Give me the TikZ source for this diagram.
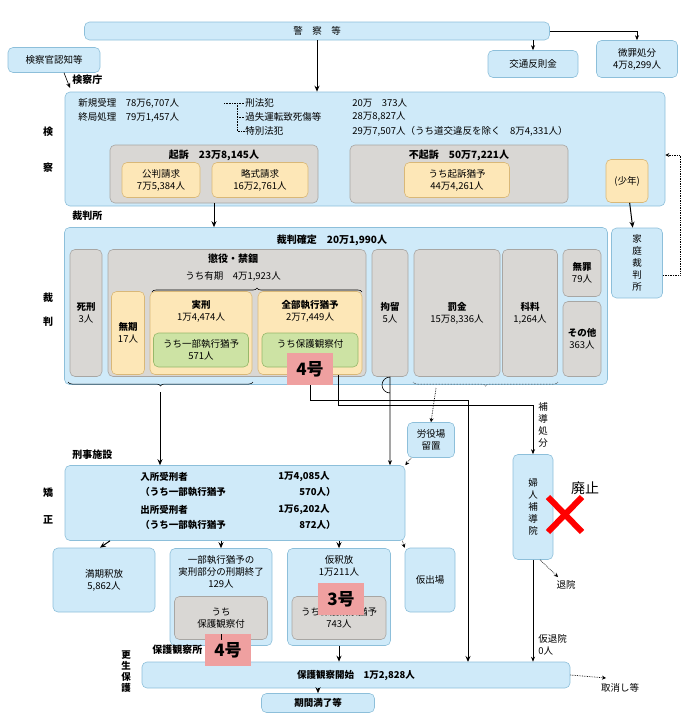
\documentclass[tikz,border=0pt]{standalone}
\usepackage{fontspec}
\setmainfont{Noto Sans CJK JP}
\usetikzlibrary{arrows.meta,decorations.pathreplacing}
\definecolor{bluef}{HTML}{CFEAF9}
\definecolor{blued}{HTML}{8DBFDA}
\definecolor{grayf}{HTML}{D9D7D4}
\definecolor{grayd}{HTML}{A8A6A3}
\definecolor{yelf}{HTML}{FDE7B7}
\definecolor{yeld}{HTML}{D9B878}
\definecolor{grnf}{HTML}{CDE3A4}
\definecolor{grnd}{HTML}{97B86A}
\definecolor{pinkf}{HTML}{EFA0A0}
\tikzset{
  every node/.append style={align=center},
  bx/.style={draw=blued,fill=bluef,rounded corners=5pt,inner sep=0pt},
  gx/.style={draw=grayd,fill=grayf,rounded corners=5pt,inner sep=0pt},
  yx/.style={draw=yeld,fill=yelf,rounded corners=5pt,inner sep=0pt},
  nx/.style={draw=grnd,fill=grnf,rounded corners=5pt,inner sep=0pt},
  go/.style={-{Stealth[length=6pt,width=5pt]},line width=1pt},
  th/.style={-{Stealth[length=5pt,width=4pt]},line width=.6pt},
  dt/.style={-{Stealth[length=4pt,width=4pt]},densely dotted,line width=.7pt},
  lb/.style={inner sep=0pt,font=\bfseries},
  bd/.style={inner sep=0pt,font=\fontsize{9.5}{11}\selectfont\bfseries},
  pk/.style={fill=pinkf,inner sep=1pt,font=\fontsize{17}{17}\selectfont\bfseries,minimum width=46pt,minimum height=32pt}
}
\begin{document}
\begin{tikzpicture}[x=1pt,y=-1pt,font=\fontsize{9.5}{12}\selectfont,line width=.6pt]
\useasboundingbox (0,0) rectangle (688,720);
% police and prosecution
\node[bx,minimum width=465pt,minimum height=18pt] (police) at (317,31) {警\quad 察\quad 等};
\node[bx,minimum width=92pt,minimum height=25pt] (ninchi) at (54,60) {検察官認知等};
\node[bx,minimum width=90pt,minimum height=27pt] (hansoku) at (533,64) {交通反則金};
\node[bx,minimum width=81pt,minimum height=37pt] (bizai) at (637,59) {微罪処分\\4万8,299人};
\node[bx,minimum width=600pt,minimum height=114pt] (kensatsu) at (365,149) {};
\node[lb,anchor=west] (kchou) at (72,80) {検察庁};
\node[lb] (ken1) at (48,132) {検};
\node[lb] (ken2) at (48,168) {察};
\node[anchor=west,inner sep=0pt] (juri) at (78,103) {新規受理\quad 78万6,707人};
\node[anchor=west,inner sep=0pt] (shuri) at (78,117) {終局処理\quad 79万1,457人};
\node[anchor=west,inner sep=0pt] (keiho) at (245,103) {刑法犯};
\node[anchor=west,inner sep=0pt] (kashitsu) at (245,117) {過失運転致死傷等};
\node[anchor=west,inner sep=0pt] (tokubetsu) at (245,131) {特別法犯};
\node[anchor=west,inner sep=0pt] (n1) at (352,103) {20万\quad 373人};
\node[anchor=west,inner sep=0pt] (n2) at (352,117) {28万8,827人};
\node[anchor=west,inner sep=0pt] (n3) at (352,131) {29万7,507人（うち道交違反を除く\quad 8万4,331人）};
\draw[densely dotted] (224,103) -- (237,103) (237,103) |- (tokubetsu.west) (237,117) -- (kashitsu.west) (237,103) -- (keiho.west);
\node[gx,minimum width=208pt,minimum height=58pt] (kiso) at (214,174) {};
\node[lb] (kisot) at (214,155) {起訴\quad 23万8,145人};
\node[yx,minimum width=78pt,minimum height=35pt] (kohan) at (161,180) {公判請求\\7万5,384人};
\node[yx,minimum width=96pt,minimum height=35pt] (ryaku) at (260,180) {略式請求\\16万2,761人};
\node[gx,minimum width=218pt,minimum height=58pt] (fukiso) at (459,174) {};
\node[lb] (fukisot) at (459,155) {不起訴\quad 50万7,221人};
\node[yx,minimum width=105pt,minimum height=35pt] (yuyo) at (457,180) {うち起訴猶予\\44万4,261人};
\node[yx,minimum width=42pt,minimum height=43pt] (shonen) at (627,181) {(少年)};
\draw[go] (police) -- (kensatsu.north -| police);
\draw[th] (ninchi.south) ++(10,0) -- (70,88);
\draw[th] (hansoku.north |- police.south) -- (hansoku.north);
\draw[th] (police.east) -| (bizai.north);
% trial
\node[lb,anchor=west] (saibansho) at (72,216) {裁判所};
\node[bx,minimum width=543pt,minimum height=157pt] (saiban) at (336,306) {};
\node[bx,minimum width=51pt,minimum height=70pt] (katei) at (637,263) {家\\庭\\裁\\判\\所};
\node[lb] (sai1) at (48,298) {裁};
\node[lb] (sai2) at (48,322) {判};
\node[lb] (kakutei) at (332,240) {裁判確定\quad 20万1,990人};
\node[gx,minimum width=32pt,minimum height=127pt] (shikei) at (86,313) {\textbf{死刑}\\3人};
\node[gx,minimum width=258pt,minimum height=127pt] (choeki) at (237,313) {};
\node[lb] (choekit) at (233,259) {懲役・禁錮};
\node (yuki) at (233,276) {うち有期\quad 4万1,923人};
\draw[decorate,decoration={brace,amplitude=4pt}] (152,292) -- (362,292);
\node[yx,minimum width=33pt,minimum height=83pt] (muki) at (128,333) {\textbf{無期}\\17人};
\node[yx,minimum width=102pt,minimum height=83pt] (jikkei) at (201,333) {};
\node (jikkeit) at (201,311) {\textbf{実刑}\\1万4,474人};
\node[nx,minimum width=95pt,minimum height=34pt] (ichibu) at (201,350) {うち一部執行猶予\\571人};
\node[yx,minimum width=104pt,minimum height=83pt] (zenbu) at (310,333) {};
\node (zenbut) at (310,311) {\textbf{全部執行猶予}\\2万7,449人};
\node[nx,minimum width=96pt,minimum height=34pt,text depth=12pt] (hogo1) at (310,350) {うち保護観察付};
\node[gx,minimum width=36pt,minimum height=127pt] (koryu) at (390,313) {\textbf{拘留}\\5人};
\node[gx,minimum width=86pt,minimum height=127pt] (bakkin) at (457,313) {\textbf{罰金}\\15万8,336人};
\node[gx,minimum width=55pt,minimum height=127pt] (karyo) at (530,313) {\textbf{科料}\\1,264人};
\node[gx,minimum width=38pt,minimum height=47pt] (muzai) at (582,273) {\textbf{無罪}\\79人};
\node[gx,minimum width=38pt,minimum height=75pt] (sonota) at (582,339) {\textbf{その他}\\363人};
\node[pk] (go4a) at (310,369) {4号};
\draw[go] (kiso.south) -- (saiban.north -| kiso.south);
\draw[go] (shonen) -- (katei);
\draw[dt] (katei.east) ++(0,12) -- (680,275) -- (680,155) -- (kensatsu.east |- 0,155);
% correction
\node[lb,anchor=west] (keiji) at (72,455) {刑事施設};
\node[lb] (kyo1) at (48,493) {矯};
\node[lb] (kyo2) at (48,520) {正};
\node[bx,minimum width=340pt,minimum height=75pt] (kyosei) at (235,503) {};
\node[bd,anchor=west] (nyusho) at (140,477) {入所受刑者};
\node[bd,anchor=west] (nyusho2) at (140,492) {（うち一部執行猶予};
\node[bd,anchor=west] (shussho) at (140,510) {出所受刑者};
\node[bd,anchor=west] (shussho2) at (140,525) {（うち一部執行猶予};
\node[bd,anchor=east] (m1) at (330,477) {1万4,085人};
\node[bd,anchor=east] (m2) at (336,492) {570人）};
\node[bd,anchor=east] (m3) at (330,510) {1万6,202人};
\node[bd,anchor=east] (m4) at (336,525) {872人）};
\node[bx,minimum width=47pt,minimum height=35pt] (roeki) at (431,440) {労役場\\留置};
\node[bx,minimum width=40pt,minimum height=105pt] (fujin) at (533,507) {婦\\人\\補\\導\\院};
\node[inner sep=0pt] (hodo) at (543,425) {補\\導\\処\\分};
\node[inner sep=0pt,font=\fontsize{14}{14}\selectfont] (haishi) at (585,488) {廃止};
\draw[red,line width=6pt] (548,497) -- (582,532) (582,497) -- (548,532);
\draw[go] (160,392) -- (kyosei.north -| 160,0);
\draw[decorate,decoration={brace,mirror,amplitude=4pt},line width=.5pt] (68,382) -- (253,382);
\draw[decorate,decoration={brace,mirror,amplitude=4pt},densely dotted,line width=.5pt] (413,382) -- (558,382);
\draw[th] (koryu.south) -- (390,393) arc (90:270:8) -- (kyosei.north -| 390,0);
\draw[dt] (436,388) -- (roeki.north);
\draw[dt] (roeki.south west) ++(4,0) -- (kyosei.north east);
\draw[line width=1pt] (go4a.south) -- (310,400) -- (468,400);
\draw[go] (468,400) -- (468,662);
\draw[th] (zenbu.south) ++(28,0) -- (338,405) -- (533,405) -- (fujin.north);
% releases
\node[bx,minimum width=102pt,minimum height=64pt] (manki) at (104,580) {満期釈放\\5,862人};
\node[bx,minimum width=102pt,minimum height=97pt] (ichibuend) at (221,597) {};
\node (ichibuendt) at (221,572) {一部執行猶予の\\実刑部分の刑期終了\\129人};
\node[gx,minimum width=93pt,minimum height=43pt] (hogo2) at (221,618) {うち\\保護観察付};
\node[bx,minimum width=103pt,minimum height=97pt] (karishaku) at (339,597) {};
\node (karishakut) at (339,566) {仮釈放\\1万211人};
\node[gx,minimum width=94pt,minimum height=43pt] (hogo3) at (339,618) {うち保護観察猶予\\743人};
\node[pk] (go3) at (341,599) {3号};
\node[bx,minimum width=50pt,minimum height=64pt] (karide) at (430,580) {仮出場};
\draw[go] (kyosei.south -| 110,0) -- (manki.north -| 100,0);
\draw[go] (kyosei.south -| ichibuend) -- (ichibuend.north);
\draw[go] (kyosei.south -| karishaku) -- (karishaku.north);
\draw[dt] (kyosei.south east) ++(-3,0) -- (karide.north west);
\node[inner sep=0pt] (taiin) at (566,585) {退院};
\node[inner sep=0pt,align=left,anchor=west] (karitai) at (538,645) {仮退院\\0人};
\draw[dt] (fujin.south) ++(7,0) -- (558,577);
% rehabilitation
\node[bd] (kosei) at (126,672) {更\\生\\保\\護};
\node[lb,anchor=west] (hogosho) at (152,650) {保護観察所};
\node[bx,minimum width=428pt,minimum height=26pt] (kaishi) at (356,675) {\textbf{保護観察開始\quad 1万2,828人}};
\node[pk] (go4b) at (228,650) {4号};
\node[bx,minimum width=113pt,minimum height=19pt] (manryo) at (318,703) {\textbf{期間満了等}};
\node[inner sep=0pt] (torikeshi) at (620,688) {取消し等};
\draw (hogo2.south) -- (go4b.north -| hogo2.south);
\draw[go] (karishaku.south) -- (kaishi.north -| karishaku.south);
\draw[th] (fujin.south) -- (kaishi.north -| fujin.south);
\draw[go] (kaishi.south -| manryo) -- (manryo.north);
\draw[dt] (kaishi.east) -- (606,678);
\end{tikzpicture}
\end{document}
